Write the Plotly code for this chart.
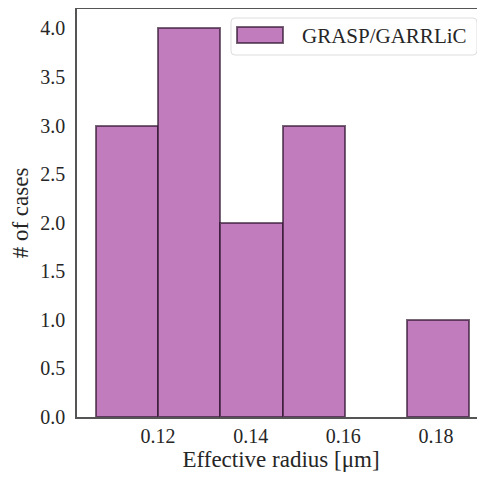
import plotly.graph_objects as go

# histogram of effective radius (bin edges in µm, counts per bin)
bin_edges = [0.1065, 0.1200, 0.1334, 0.1469, 0.1603, 0.1738, 0.1872]
counts = [3, 4, 2, 3, 0, 1]
series_name = "GRASP/GARRLiC"

y_ticks = [0.0, 0.5, 1.0, 1.5, 2.0, 2.5, 3.0, 3.5, 4.0]
x_ticks = [0.12, 0.14, 0.16, 0.18]

# the page body has an 8px margin, so the figure is drawn 8px smaller
OFF = 8
W, H = 485 - OFF, 478 - OFF
L, R, T, B = 77 - OFF, 0, 1, 478 - 417
FILL = "#c07cbc"
EDGE = "rgba(45,20,45,0.65)"
FONT = "Liberation Serif"
TXT = "#262626"

centers = [(a + b) / 2 for a, b in zip(bin_edges[:-1], bin_edges[1:])]
widths = [b - a for a, b in zip(bin_edges[:-1], bin_edges[1:])]


def px_x(p):
    # screen pixel -> paper x
    return (p - OFF - L) / (W - L - R)


def px_y(p):
    # screen pixel -> paper y
    return (H - B - (p - OFF)) / (H - B - T)


def round_rect(x0, y0, x1, y1, r):
    # rounded rectangle path in paper coords, input in screen pixels
    pts = [
        f"M{px_x(x0 + r)},{px_y(y0)}",
        f"L{px_x(x1 - r)},{px_y(y0)}",
        f"Q{px_x(x1)},{px_y(y0)} {px_x(x1)},{px_y(y0 + r)}",
        f"L{px_x(x1)},{px_y(y1 - r)}",
        f"Q{px_x(x1)},{px_y(y1)} {px_x(x1 - r)},{px_y(y1)}",
        f"L{px_x(x0 + r)},{px_y(y1)}",
        f"Q{px_x(x0)},{px_y(y1)} {px_x(x0)},{px_y(y1 - r)}",
        f"L{px_x(x0)},{px_y(y0 + r)}",
        f"Q{px_x(x0)},{px_y(y0)} {px_x(x0 + r)},{px_y(y0)}",
        "Z",
    ]
    return " ".join(pts)


fig = go.Figure()
fig.add_trace(
    go.Bar(
        x=centers,
        y=counts,
        width=widths,
        name=series_name,
        marker=dict(color=FILL, line=dict(color=EDGE, width=[2 if c else 0 for c in counts])),
        showlegend=False,
    )
)

# legend drawn by hand so the patch matches matplotlib's wide swatch
fig.add_shape(
    type="path",
    xref="paper",
    yref="paper",
    path=round_rect(231, 18, 477, 55, 4),
    fillcolor="rgba(255,255,255,0.8)",
    line=dict(color="#dddddd", width=1),
)
fig.add_shape(
    type="rect",
    xref="paper",
    yref="paper",
    x0=px_x(237),
    x1=px_x(283),
    y0=px_y(43),
    y1=px_y(27),
    fillcolor=FILL,
    line=dict(color=EDGE, width=2),
)
fig.add_annotation(
    xref="paper",
    yref="paper",
    x=px_x(300),
    y=px_y(36),
    xanchor="left",
    yanchor="middle",
    text=series_name,
    showarrow=False,
    font=dict(family=FONT, size=21, color=TXT),
)

fig.update_layout(
    width=W,
    height=H,
    margin=dict(l=L, r=R, t=T, b=B),
    plot_bgcolor="white",
    paper_bgcolor="white",
    bargap=0,
    font=dict(family=FONT, color=TXT),
)
fig.update_xaxes(
    range=[0.1025, 0.1906],
    tickvals=x_ticks,
    ticktext=[f"{v:.2f}" for v in x_ticks],
    tickfont=dict(size=20, color=TXT),
    showgrid=False,
    zeroline=False,
    showline=True,
    linecolor="#555555",
    linewidth=1.5,
    mirror=True,
    ticks="",
    ticklabelstandoff=0,
    automargin=False,
    title=dict(text="Effective radius [μm]", font=dict(size=23, color=TXT), standoff=0),
)
fig.update_yaxes(
    range=[0, 4.2],
    tickvals=y_ticks,
    ticktext=[f"{v:.1f}" for v in y_ticks],
    tickfont=dict(size=20, color=TXT),
    showgrid=False,
    zeroline=False,
    showline=True,
    linecolor="#555555",
    linewidth=1.5,
    ticks="",
    ticklabelstandoff=6,
    automargin=False,
    title=dict(text="# of cases", font=dict(size=23, color=TXT), standoff=6),
)

fig.write_html("out.html")
